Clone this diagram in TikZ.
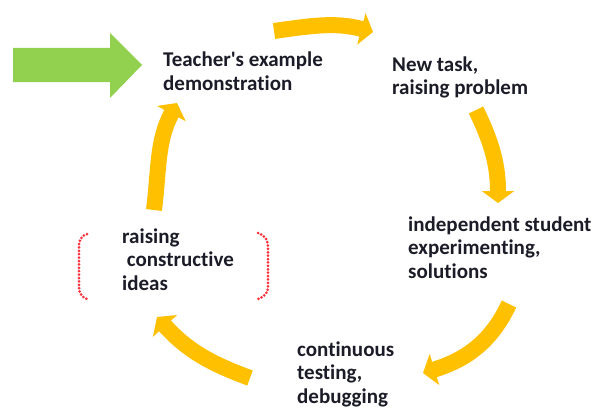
\documentclass[tikz,border=0pt]{standalone}
\usepackage{fontspec}
\newfontfamily\lblfont{Carlito}[Ligatures=NoCommon]
\usetikzlibrary{arrows.meta}
\definecolor{cycorange}{RGB}{255,192,0}
\definecolor{cycgreen}{RGB}{146,208,80}
\definecolor{cyctext}{RGB}{28,28,40}
\definecolor{cycred}{RGB}{250,50,60}
\tikzset{
  lbl/.style={anchor=base west, inner sep=0pt, align=left, text=cyctext,
    font=\lblfont\bfseries\fontsize{21}{23.5}\selectfont},
  cycarrow/.style={draw=cycorange, line width=16pt,
    -{Triangle[width=32pt,length=12pt]}},
  redbracket/.style={draw=cycred, line width=3pt, line cap=round,
    dash pattern=on 0pt off 3.4pt}
}
\begin{document}
\begin{tikzpicture}[x=1pt,y=1pt]
\useasboundingbox (0,0) rectangle (601,-412);
% texts (anchored at the baseline of the last line)
\node[lbl] (teach) at (163,-90) {Teacher's example\\demonstration};
\node[lbl] (task) at (392,-94.5) {New task,\\raising problem};
\node[lbl] (indep) at (408,-278) {independent student\\experimenting,\\solutions};
\node[lbl] (cont) at (297,-403) {continuous\\testing,\\debugging};
\node[lbl] (ideas) at (122,-290) {raising\\\ constructive\\ideas};
% green entry arrow
\fill[cycgreen] (13,-48) -- (110,-48) -- (110,-33) -- (142,-65) -- (110,-98) -- (110,-82) -- (13,-82) -- cycle;
% cycle arrows
\coordinate (a1s) at (274,-31);  \coordinate (a1e) at (373,-32);
\coordinate (a2s) at (476,-110); \coordinate (a2e) at (498,-203);
\coordinate (a3s) at (509,-304); \coordinate (a3e) at (423,-373);
\coordinate (a4s) at (250,-378); \coordinate (a4e) at (157,-317);
\coordinate (a5s) at (154,-210); \coordinate (a5e) at (177,-103);
\draw[cycarrow] (a1s) to[out=8,in=165] (a1e);
\draw[cycarrow] (a2s) to[out=-64,in=90] (a2e);
\draw[cycarrow] (a3s) to[out=-115,in=17] (a3e);
\draw[cycarrow] (a4s) to[out=160,in=-48] (a4e);
\draw[cycarrow] (a5s) to[out=83,in=-118] (a5e);
% red dotted brackets
\draw[redbracket] (87,-234) .. controls (79,-237) and (79,-242) .. (79,-248) -- (79,-286) .. controls (79,-292) and (80,-296) .. (87,-299);
\draw[redbracket] (258,-233) .. controls (266,-236) and (268,-241) .. (268,-247) -- (268,-286) .. controls (268,-292) and (266,-296) .. (258,-299);
\end{tikzpicture}
\end{document}
